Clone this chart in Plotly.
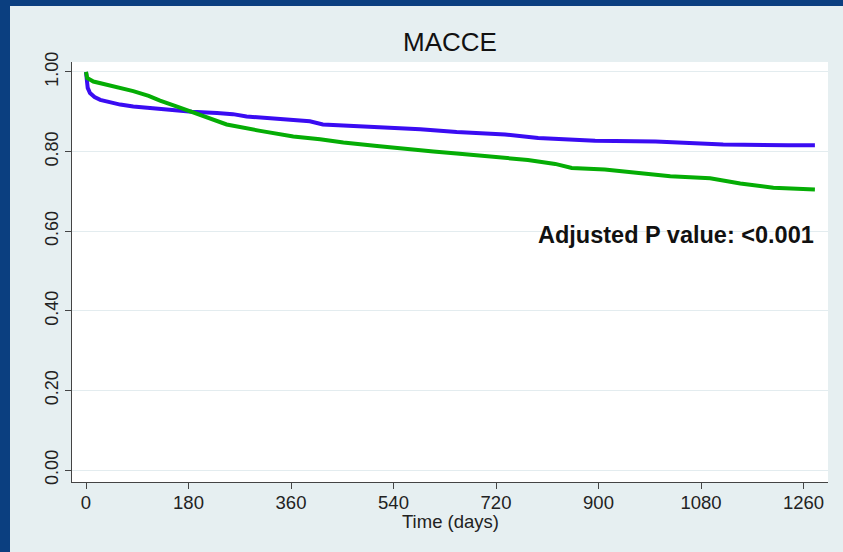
import plotly.graph_objects as go

# Data (Kaplan-Meier style survival curves)
blue_days = [0, 1, 3, 7, 15, 25, 42, 60, 83, 110, 130, 186, 230, 258, 282, 335, 393, 416, 480, 534, 587, 651, 700, 736, 794, 853, 894, 1000, 1072, 1119, 1233, 1280]
blue_vals = [1.0, 0.975, 0.96, 0.947, 0.937, 0.93, 0.924, 0.918, 0.913, 0.909, 0.906, 0.900, 0.897, 0.894, 0.888, 0.882, 0.876, 0.868, 0.864, 0.861, 0.856, 0.849, 0.846, 0.843, 0.834, 0.831, 0.827, 0.825, 0.822, 0.818, 0.816, 0.816]

green_days = [0, 2, 13, 42, 83, 110, 130, 160, 186, 215, 247, 306, 364, 411, 452, 511, 569, 610, 651, 718, 776, 824, 853, 911, 932, 979, 1026, 1096, 1149, 1207, 1280]
green_vals = [1.0, 0.985, 0.976, 0.966, 0.952, 0.94, 0.928, 0.913, 0.900, 0.885, 0.868, 0.852, 0.838, 0.831, 0.823, 0.814, 0.805, 0.800, 0.795, 0.787, 0.779, 0.769, 0.759, 0.755, 0.752, 0.745, 0.738, 0.733, 0.720, 0.709, 0.705]

x_ticks = [0, 180, 360, 540, 720, 900, 1080, 1260]
y_ticks = [0.0, 0.2, 0.4, 0.6, 0.8, 1.0]

title_text = "MACCE"
x_title = "Time (days)"
p_text = "Adjusted P value: <0.001"

W, H = 843, 552
ml, mr, mt, mb = 72, 15, 62, 70
pw, ph = W - ml - mr, H - mt - mb

FONT = "Liberation Sans, Arial, sans-serif"
BG = "#e6eff1"
DARK = "#0b3f80"

fig = go.Figure()
fig.add_trace(go.Scatter(x=blue_days, y=blue_vals, mode="lines",
                         line=dict(color="#3a0cf2", width=4), showlegend=False))
fig.add_trace(go.Scatter(x=green_days, y=green_vals, mode="lines",
                         line=dict(color="#05ad05", width=4), showlegend=False))

fig.add_annotation(x=1282, y=0.59, xref="x", yref="y", text="<b>" + p_text + "</b>",
                   showarrow=False, xanchor="right", yanchor="middle",
                   font=dict(family=FONT, size=23.5, color="#111111"))

# slide frame (dark blue bands on left and top)
def px_x(p):
    return (p - ml) / pw

def px_y(p):
    return (H - mb - p) / ph

# x-axis title placed as paper annotation
fig.add_annotation(x=0.5, y=px_y(521), xref="paper", yref="paper", text=x_title,
                   showarrow=False, xanchor="center", yanchor="middle",
                   font=dict(family=FONT, size=18.5, color="#222222"))

fig.add_shape(type="rect", xref="paper", yref="paper", x0=px_x(0), x1=px_x(10),
              y0=px_y(H), y1=px_y(0), fillcolor=DARK, line=dict(width=0), layer="above")
fig.add_shape(type="rect", xref="paper", yref="paper", x0=px_x(0), x1=px_x(W),
              y0=px_y(6), y1=px_y(0), fillcolor=DARK, line=dict(width=0), layer="above")

fig.update_layout(
    width=W, height=H,
    margin=dict(l=ml, r=mr, t=mt, b=mb),
    paper_bgcolor=BG, plot_bgcolor="white",
    title=dict(text=title_text, x=0.5, xref="paper", y=1 - 42 / H, yref="container",
               xanchor="center", yanchor="middle",
               font=dict(family=FONT, size=26, color="#111111")),
    font=dict(family=FONT, color="#222222"),
    xaxis=dict(range=[-24.6, 1303], tickvals=x_ticks, ticktext=[str(v) for v in x_ticks],
               showgrid=False, zeroline=False, showline=True, linecolor="#444444", linewidth=1,
               ticks="outside", ticklen=6, tickcolor="#444444", ticklabelstandoff=-2,
               tickfont=dict(family=FONT, size=18.5, color="#222222")),
    yaxis=dict(range=[-0.03, 1.025], tickvals=y_ticks, tickformat=".2f",
               showgrid=True, gridcolor="#e3ecef", gridwidth=1, zeroline=False,
               showline=True, linecolor="#444444", linewidth=1,
               ticks="outside", ticklen=6, tickcolor="#444444", tickangle=-90,
               tickfont=dict(family=FONT, size=18, color="#222222")),
)

fig.write_html("out.html")
